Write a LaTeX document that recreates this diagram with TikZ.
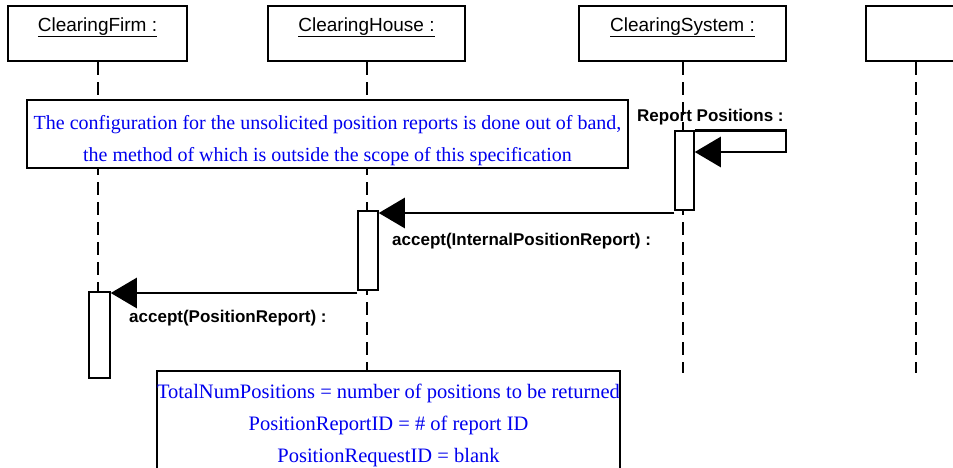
\documentclass[tikz,border=0pt]{standalone}
\usepackage{fontspec}
\setmainfont{Liberation Serif}
\setsansfont{Liberation Sans}
\usepackage{tikz}
\usetikzlibrary{arrows.meta}
\usetikzlibrary{calc}

\definecolor{noteblue}{RGB}{0,0,238}

\begin{document}
\begin{tikzpicture}[
    x=1pt, y=-1pt,
    head/.style={draw, line width=2pt, minimum height=55pt, inner sep=0pt,
      text height=12pt, text depth=17pt,
      font=\sffamily\fontsize{19}{21}\selectfont},
    lifeline/.style={line width=2pt, dash pattern=on 13pt off 7pt},
    act/.style={draw, fill=white, line width=1.5pt, inner sep=0pt},
    msg/.style={line width=2.5pt, -{Triangle[length=26pt, width=30pt]}},
    msglabel/.style={font=\sffamily\bfseries\fontsize{17}{20}\selectfont,
      inner sep=0pt, anchor=base west},
    note/.style={draw, fill=white, line width=2pt, inner sep=0pt, align=center,
      text=noteblue}
  ]

  \useasboundingbox (0,0) rectangle (953,467);
  \clip (0,0) rectangle (953,467);

  % objects
  \node [head, minimum width=179pt] (firm) at (97.5,33.5)
  {\underline{ClearingFirm :}};

  \node [head, minimum width=197pt] (house) at (366.5,33.5)
  {\underline{ClearingHouse :}};

  \node [head, minimum width=207pt] (system) at (682.5,33.5)
  {\underline{ClearingSystem :}};

  \node [head, minimum width=100pt] (other) at (916,33.5) {};

  % lifelines
  \coordinate (firmend) at (firm.south |- 0,378);
  \coordinate (houseend) at (house.south |- 0,372);
  \coordinate (systemend) at (system.south |- 0,373);
  \coordinate (otherend) at (other.south |- 0,373);

  \draw [lifeline] (firm.south) -- (firmend);
  \draw [lifeline] (house.south) -- (houseend);
  \draw [lifeline] (system.south) -- (systemend);
  \draw [lifeline] (other.south) -- (otherend);

  \node [note, minimum width=601pt, minimum height=68pt,
    text height=58pt, text depth=4pt,
    font=\fontsize{20}{32}\selectfont] (config) at (327.5,134)
  {The configuration for the unsolicited position reports is done out of band,\\
    the method of which is outside the scope of this specification};

  % activations
  \node [act, minimum width=19pt, minimum height=79pt] (sysact)
  at (684.5,170.5) {};

  \node [act, minimum width=20pt, minimum height=79pt] (houseact)
  at (368,250.5) {};

  \node [act, minimum width=21pt, minimum height=86pt] (firmact)
  at (99.5,335) {};

  % messages
  \coordinate (selfturn) at (786,152);

  \draw [msg] (sysact.north east) -| (selfturn) -- (sysact.east |- selfturn);
  \node [msglabel] (report) at (637,121) {Report Positions :};

  \draw [msg] (sysact.south west |- 0,213) -- (houseact.east |- 0,213);
  \node [msglabel] (internal) at (392,245) {accept(InternalPositionReport) :};

  \draw [msg] (houseact.south west |- 0,293) -- (firmact.east |- 0,293);
  \node [msglabel] (accept) at (129,322) {accept(PositionReport) :};

  \node [note, minimum width=463pt, minimum height=109pt,
    text height=77pt, text depth=4pt,
    font=\fontsize{20.5}{32}\selectfont] (fields) at (388.5,425.5)
  {TotalNumPositions = number of positions to be returned\\
    PositionReportID = \# of report ID\\
    PositionRequestID = blank};

\end{tikzpicture}
\end{document}
